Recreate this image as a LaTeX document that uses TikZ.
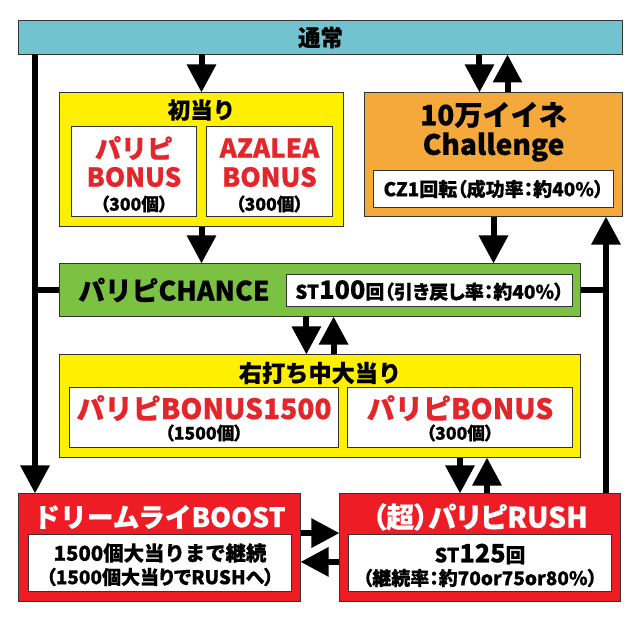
\documentclass[tikz,border=0pt]{standalone}
\usepackage{fontspec}
\setmainfont{Noto Sans CJK JP}[BoldFeatures={FakeBold=0.6}]
\newfontfamily\paltfont{Noto Sans CJK JP}[RawFeature=+palt, BoldFeatures={FakeBold=0.6}]
\usetikzlibrary{arrows.meta}

\definecolor{skyblue}{HTML}{72C3D0}
\definecolor{lemon}{HTML}{FFEF00}
\definecolor{amber}{HTML}{F6A93B}
\definecolor{grass}{HTML}{7CC242}
\definecolor{scarlet}{HTML}{EE1D25}
\definecolor{redtext}{HTML}{E3262B}
\newcommand\txtsize[1]{\fontsize{#1}{#1}\selectfont}

\tikzset{
  box/.style={draw=black!80, line width=0.7pt, inner sep=0pt},
  inbox/.style={box, fill=white},
  txt/.style={inner sep=0pt, font=\bfseries},
  redtxt/.style={txt, text=redtext},
  wire/.style={line width=0.15cm},
  flow/.style={wire, -{Triangle[width=0.7cm,length=0.7cm]}},
}

\begin{document}
\begin{tikzpicture}[x=0.025cm, y=-0.025cm]
\useasboundingbox (0,0) rectangle (640,622);

\node (tsujo) at (320.5,37.5) [box, fill=skyblue, minimum width=15.075cm, minimum height=0.825cm]{};
\node (tsujo-t) at (320.5,37.5) [txt, font=\bfseries\txtsize{16}]{通常};

\node (hatsu) at (201.5,159.5) [box, fill=lemon, minimum width=7.075cm, minimum height=3.325cm]{};
\node (hatsu-t) at (201.5,110) [txt, font=\bfseries\txtsize{16}]{初当り};
\node (pbonus) at (134,171.5) [inbox, minimum width=3.1cm, minimum height=2.225cm]{};
\node (pbonus-1) at (134,148) [redtxt, font=\bfseries\txtsize{18.5}]{パリピ};
\node (pbonus-2) at (134,177) [redtxt, font=\bfseries\txtsize{18.5}]{BONUS};
\node (pbonus-3) at (134,204) [txt, font=\paltfont\bfseries\txtsize{12.5}]{（300個）};
\node (azalea) at (269.5,171.5) [inbox, minimum width=3.125cm, minimum height=2.225cm]{};
\node (azalea-1) at (269.5,148) [redtxt, font=\bfseries\txtsize{18.5}]{AZALEA};
\node (azalea-2) at (269.5,177) [redtxt, font=\bfseries\txtsize{18.5}]{BONUS};
\node (azalea-3) at (269.5,204) [txt, font=\paltfont\bfseries\txtsize{12.5}]{（300個）};

\node (chall) at (493.5,154.5) [box, fill=amber, minimum width=6.425cm, minimum height=3.075cm]{};
\node (chall-1) at (493.5,115) [txt, font=\bfseries\txtsize{20}]{10万イイネ};
\node (chall-2) at (493.5,147) [txt, font=\bfseries\txtsize{20}]{Challenge};
\node (chall-in) at (493.5,189) [inbox, minimum width=5.975cm, minimum height=0.9cm, font=\paltfont\bfseries\txtsize{13.5}]{CZ1回転（成功率：約40\%）};

\node (chance) at (320,290) [box, fill=grass, minimum width=13cm, minimum height=1.3cm]{};
\node (chance-t) at (78,290) [txt, anchor=west, font=\bfseries\txtsize{19}]{パリピCHANCE};
\node (chance-in) at (429.5,290.5) [inbox, minimum width=7.125cm, minimum height=0.775cm, font=\paltfont\bfseries\txtsize{13.5}]{ST{\txtsize{18}100}回（引き戻し率：約40\%）};

\node (migi) at (320,406) [box, fill=lemon, minimum width=13cm, minimum height=2.55cm]{};
\node (migi-t) at (320,373) [txt, font=\bfseries\txtsize{16.5}]{右打ち中大当り};
\node (mbig) at (204,417.5) [inbox, minimum width=6.7cm, minimum height=1.475cm]{};
\node (mbig-1) at (204,408) [redtxt, font=\bfseries\txtsize{20}]{パリピBONUS1500};
\node (mbig-2) at (204,433) [txt, font=\paltfont\bfseries\txtsize{12.5}]{（1500個）};
\node (msmall) at (460,417.5) [inbox, minimum width=5.6cm, minimum height=1.475cm]{};
\node (msmall-1) at (460,408) [redtxt, font=\bfseries\txtsize{20}]{パリピBONUS};
\node (msmall-2) at (460,433) [txt, font=\paltfont\bfseries\txtsize{12.5}]{（300個）};

\node (boost) at (159.5,547.5) [box, fill=scarlet, minimum width=7.025cm, minimum height=2.675cm]{};
\node (boost-t) at (159.5,517) [txt, text=white, font=\bfseries\txtsize{19}]{ドリームライBOOST};
\node (boost-in) at (160,563) [inbox, minimum width=6.55cm, minimum height=1.4cm]{};
\node (boost-1) at (160,553) [txt, font=\bfseries\txtsize{14.5}]{1500個大当りまで継続};
\node (boost-2) at (160,577) [txt, font=\paltfont\bfseries\txtsize{13.5}]{（1500個大当りでRUSHへ）};

\node (rush) at (480,547.5) [box, fill=scarlet, minimum width=7cm, minimum height=2.675cm]{};
\node (rush-t) at (480,517) [txt, text=white, font=\paltfont\bfseries\txtsize{20}]{（超）パリピRUSH};
\node (rush-in) at (480,563) [inbox, minimum width=6.55cm, minimum height=1.4cm]{};
\node (rush-1) at (480,554) [txt, font=\bfseries\txtsize{14}]{ST{\txtsize{18}125}回};
\node (rush-2) at (480,578) [txt, font=\paltfont\bfseries\txtsize{13.5}]{（継続率：約70or75or80\%）};

% side lines
\coordinate (lx) at (35,0);
\coordinate (rx) at (606,0);
\draw [flow] (tsujo.south -| lx) -- (boost.north -| lx);
\draw [wire] (chance.west) -- (chance.west -| lx);
\draw [flow] (rush.north -| rx) -- (chall.south -| rx);
\draw [wire] (chance.east) -- (chance.east -| rx);

\draw [flow] (tsujo.south -| hatsu.north) -- (hatsu.north);
\draw [flow] ([xshift=-0.35cm]tsujo.south -| chall.north) -- ([xshift=-0.35cm]chall.north);
\draw [flow] ([xshift=0.35cm]chall.north) -- ([xshift=0.35cm]tsujo.south -| chall.north);

\draw [flow] (hatsu.south) -- (hatsu.south |- chance.north);
\draw [flow] (chall.south) -- (chall.south |- chance.north);

\draw [flow] ([xshift=-0.34cm]chance.south) -- ([xshift=-0.34cm]migi.north);
\draw [flow] ([xshift=0.34cm]migi.north) -- ([xshift=0.34cm]chance.south);

\draw [flow] ([xshift=-0.5cm]migi.south -| rush.north) -- ([xshift=-0.5cm]rush.north);
\draw [flow] ([xshift=0.175cm]rush.north) -- ([xshift=0.175cm]migi.south -| rush.north);

\draw [flow] ([yshift=0.36cm]boost.east) -- ([yshift=0.36cm]boost.east -| rush.west);
\draw [flow] ([yshift=-0.36cm]rush.west) -- ([yshift=-0.36cm]rush.west -| boost.east);

\end{tikzpicture}
\end{document}
